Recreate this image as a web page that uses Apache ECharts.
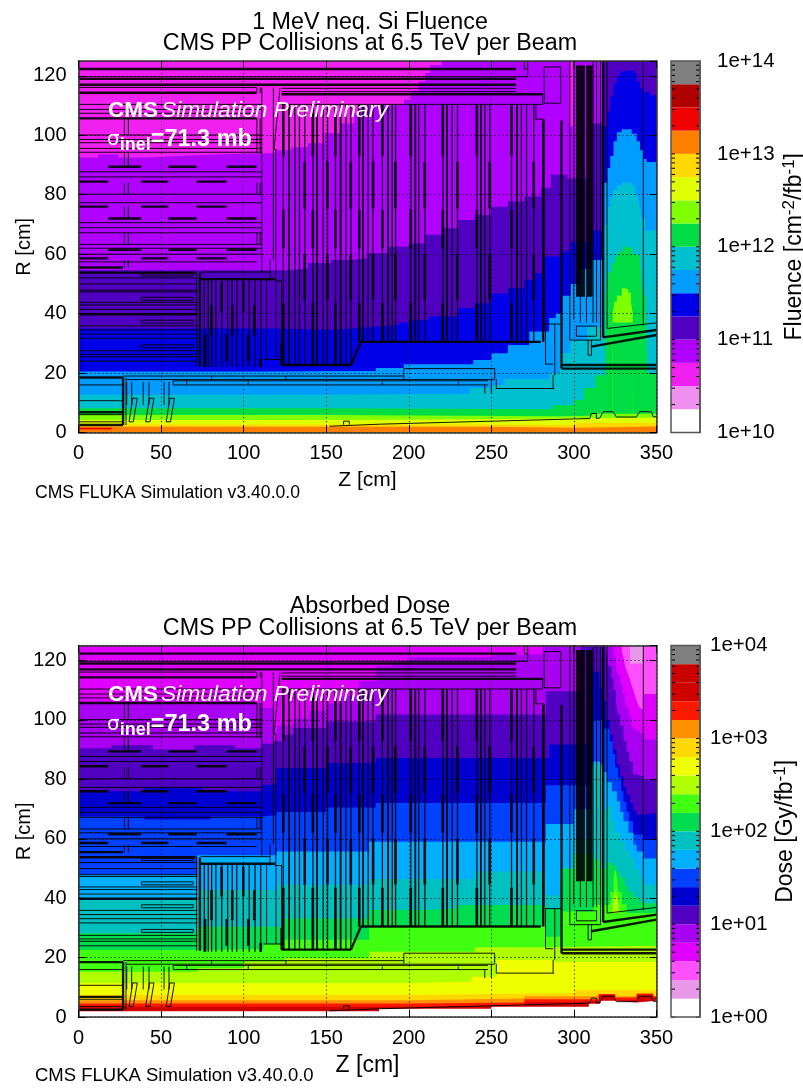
<!DOCTYPE html>
<html><head><meta charset="utf-8">
<script src="https://cdn.jsdelivr.net/npm/echarts@6/dist/echarts.min.js"></script>
<style>html,body{margin:0;padding:0;background:#fff}#c{width:803px;height:1089px}</style></head>
<body><div id="c"></div>
<script>
const FONT='Liberation Sans';
const zTicks=[0,50,100,150,200,250,300,350];
const rTicks=[0,20,40,60,80,100,120];

// colour scales, low to high
const fluenceColors=['#ffffff','#f090f0','#f020f0','#b000ff','#5000c0','#0000e8','#009cff','#00c0d0','#00dd44','#80ff00','#e0ff00','#ffd800','#ff8000','#f00000','#b00000','#808080'];
const fluenceEdges=[1e10,1.78e10,3.16e10,5.62e10,1e11,1.78e11,3.16e11,5.62e11,1e12,1.78e12,3.16e12,5.62e12,1e13,1.78e13,3.16e13,5.62e13,1e14];
const doseColors=['#ffffff','#e898e8','#ff50ff','#e000ff','#a800f0','#5000c0','#0000d0','#0040ff','#00b0ff','#00c0c0','#00dd50','#40ff10','#b0ff00','#f0ff00','#ffd800','#ff9000','#ff1800','#d00000','#c80000','#808080'];
const doseEdges=[1,1.58,2.51,3.98,6.31,10,15.8,25.1,39.8,63.1,100,158,251,398,631,1000,1580,2510,3980,6310,10000];

// fluence: R below which the field is at least this level, read as [Z, R] steps
const fluMagenta=[[0,125],[350,125]];
const fluPurple=[[0,92.5],[12,93.5],[24,92.5],[42,93],[60,93.5],[85,94],[111,94],[119,95],[129,96],[139,97.3],[149,100.7],[159,104],[167,107.4],[171,110],[185,110],[193,110.5],[197,112],[201,115],[206,118],[210,121],[213,123.6],[220,125],[297,103],[300,125],[350,125]];
const fluIndigo=[[0,54.6],[70,54.6],[127,55.2],[139,57],[153,58],[165,58.6],[175,60.3],[187.5,62.5],[200,63.6],[210,66.5],[220,68.7],[230,71.5],[240,73.2],[250,76],[260,77.7],[270,79.4],[280,82.2],[286,86.7],[296,85.5],[311,104],[318,125],[350,125]];
const fluBlue=[[0,35],[70,35],[119,34.5],[153,35],[167,35.6],[180,36.2],[194,37],[200,37.8],[212,39],[230,41.8],[240,43.5],[250,46.8],[260,48.5],[270,51.3],[276,53.6],[282,59.2],[293,61],[298,64],[311,68],[318,103],[320,108],[322,113],[324,117.5],[326,120],[328,121.5],[330,122],[336,121],[338,118],[340,116],[342,114.6],[346,113.5],[350,113]];
const fluSky=[[0,20.5],[110,20.7],[180,21.7],[197,23],[239,24.4],[250,26.7],[260,29.4],[273,34],[285,38.5],[289,40],[293,46],[298,50],[304,55],[311,58],[318,84],[320,89],[322,93],[324,98],[326,101],[329,102],[332,102],[335,100.5],[338,98],[340,95],[342,92],[344,91],[350,90.5]];
const fluTeal=[[0,12.7],[150,13],[237,15],[250,16],[258,18],[285,20],[291.6,26.7],[298,31],[308,35.5],[318,65.7],[319,70],[320.6,76],[322,79],[323.5,81.6],[326,83],[329,84],[332,84],[335,83],[337,80],[339,78],[340,76],[341,72],[343,68],[350,67]];
const fluGreen=[[0,8.2],[150,7.8],[287,9.2],[300,10.9],[306,15],[313,19.3],[319,45],[320,50],[321,54],[323,57],[325,59.5],[327,61],[330,62.5],[332,62],[335,60],[338,59.5],[340,58],[341,50],[342,46],[343.5,42],[344.5,20],[350,20]];
const fluLimeIsland=[[323.5,40],[324.5,44],[326,46],[329,48.5],[331,48],[333,47],[334.5,44],[335.6,40],[336,40]];
const fluGreenCover=[[323.5,37],[336,37]];
const fluLime=[[0,5.9],[150,5.5],[290,5.6],[310,6.3],[350,7]];
const fluYellow=[[0,4.2],[100,4.3],[200,4.7],[290,5],[350,5.2]];
const fluGold=[[0,2.7],[250,2.5],[300,3.2],[350,3.2]];
const fluOrange=[[0,1.9],[250,1.6],[300,2],[350,2]];
const fluRed=[[0,1.6],[20,1.6]];
const fluOrangeCover=[[0,1],[20,1]];

// dose
const dosePale=[[0,125],[350,125]];
const dosePink=[[0,125],[334,119],[342,125],[350,125]];
const doseMagenta=[[0,125],[329,123],[330,121],[331,118],[332,116.5],[333,115],[334,113.5],[335,111.5],[336,110],[337,108],[338,106.5],[339,105],[340,104],[341,103.5],[342,108.7],[350,108.7]];
const dosePurple=[[0,105.7],[30,105.2],[70,105.7],[111,104],[118,93],[120,98],[130,100.5],[140,103],[150,105.5],[160,108],[170,113],[180,118],[190,119.5],[200,121],[250,122],[281,125],[322.7,125],[324,121],[325.5,118],[326.7,115.2],[328,112],[329.5,109],[330.8,106.3],[332,104],[333.5,101],[334.8,98.4],[336,97],[337.9,96.2],[340,95.5],[342,95],[343,93.4],[350,93.4]];
const doseIndigo=[[0,90.5],[20,91.5],[45,90],[70,91.5],[95,90.5],[111,92],[118,92.8],[124,95],[130,97.3],[150,99.5],[180,101.8],[280,101.8],[283,109.6],[300,109.6],[304,125],[319,125],[320,122],[321,118],[322.7,114],[324,110],[325.5,106],[326.7,101.8],[328,98],[330,93],[331.8,89.4],[333.5,86],[335.8,81.6],[338,81],[342,80.5],[343,79.9],[350,79.9]];
const doseDark=[[0,76],[40,77],[75,76],[111,78.2],[120,83.8],[150,85.5],[180,87.2],[280,87.2],[285,91.7],[300,92],[311,116],[313.6,116.4],[315.5,111],[317.7,106.3],[319.5,100],[321.7,95],[323.5,90],[325.8,85],[328,81],[330,77.5],[331.8,74.9],[334,72],[336,69.5],[337.9,68.1],[342,67.6],[343,68.7],[350,68.7]];
const doseBlue=[[0,67.5],[40,66.5],[80,67.5],[111,68],[120,69],[150,70.5],[180,72],[280,72],[283,78],[300,78],[311.6,100],[317,97],[321.7,92.8],[323.5,88.5],[325,84],[326.7,80.5],[328.5,76],[330,72.5],[331.8,69.2],[333.5,66],[335.8,61.4],[342,59.6],[350,58]];
const doseSky=[[0,47.8],[72,54.5],[120,55.7],[176,59],[280,59],[283,65],[292,65],[300,70],[311.6,86],[316,82.5],[320,79],[323,76],[326,72.6],[328,69],[330,65.9],[333,62],[336,58],[338,55.7],[342,53.4],[350,52.3]];
const doseTeal=[[0,39.4],[72,42.8],[120,44.5],[176,46.5],[240,49],[281,49],[283,41],[292,41],[300,60],[311,85],[316,85],[318,70],[321,71],[323,66],[325,62],[328,59],[331,56],[334,53.5],[337,50],[340,47],[342,44.5],[350,43.3]];
const doseGreen=[[0,28.2],[72,30.4],[123,33.2],[176,36],[210,36.6],[230,37.7],[281,37.7],[283,36.5],[292,50],[300,55],[312,53],[316,50],[320,52],[323,51],[326,49],[328,47],[331,44],[333,42.2],[336,40.5],[339,39],[342,38.3],[350,37.7]];
const doseLime=[[0,22.6],[72,23],[112,24.5],[123,26],[176,30.5],[280,30.5],[283,27],[292,35.5],[312,37.7],[320,38],[322,42],[324,47],[325,50],[326,47],[327,42],[329,38],[332,35],[350,36.6]];
const doseYgIsland=[[323.5,38],[324.5,41],[325,43],[326,41],[327,38],[328,38]];
const doseLimeCover=[[322,35],[328,35]];
const doseYg=[[0,15.3],[72,16.4],[100,18.7],[125,19.8],[176,22],[240,23.5],[280,24],[350,24]];
const doseYellow=[[0,11.4],[200,12],[238,13.6],[253,19.2],[288,18.5],[350,18.5]];
const doseGold=[[0,7.4],[200,8],[300,9],[350,9]];
const doseOrange=[[0,5.7],[200,6.3],[270,7],[350,7.3]];
const doseRed=[[0,4.6],[200,4.9],[270,6],[315,7.8],[325,6.6],[338,7.9],[348,7],[350,7]];
const doseDarkRed=[[0,3.5],[200,3.8],[270,5],[300,5.5],[315,7.4],[325,5.7],[338,7.4],[348,6.5],[350,6.5]];
const doseWhite=[[0,2],[150,2],[182,2.8],[250,3.5],[309,4.5],[316,5.5],[325,4.9],[338,5.5],[350,5.6]];

const fluenceLayers=[[2,fluMagenta],[3,fluPurple],[4,fluIndigo],[5,fluBlue],[6,fluSky],[7,fluTeal],[8,fluGreen],[9,fluLimeIsland],[8,fluGreenCover],[9,fluLime],[10,fluYellow],[11,fluGold],[12,fluOrange],[13,fluRed],[12,fluOrangeCover]];
const doseLayers=[[1,dosePale],[2,dosePink],[3,doseMagenta],[4,dosePurple],[5,doseIndigo],[6,doseDark],[7,doseBlue],[8,doseSky],[9,doseTeal],[10,doseGreen],[11,doseLime],[12,doseYgIsland],[11,doseLimeCover],[12,doseYg],[13,doseYellow],[14,doseGold],[15,doseOrange],[16,doseRed],[17,doseDarkRed],[0,doseWhite]];

// detector outline: horizontal rules [R, Z from, Z to]
const thinH=[[116.1,0,107.8],[110.4,0,111],[108.7,0,111],[107.4,0,107.8],[100.1,0,111],[98.6,0,111],[97.5,0,111],[95.6,0,111],[94.3,0,111],[87.7,0,111],[86,0,111],[80.2,0,111],[77.3,0,111],[70.6,0,111],[68.9,0,111],[67.2,0,111],[63.3,0,111],[62,0,111],[60,0,111],[57.4,0,107.8],
 [119.7,0,272],[52,0,72],[50,0,72],[47.9,0,72],[47.3,0,72],[43.8,0,72],[42.9,0,72],[41.4,0,72],[35.9,0,72],[34.5,0,72],[33.1,0,72],[31.7,0,72],[27.5,0,72],[26.3,0,72],[25.5,0,72],[24,0,72],
 [115.8,123,265],[114.7,123,265],[110.4,123,281],[16,0,27],[10.7,0,27],[6,0,27],[3.6,0,27],[19,27,197],[17.8,29,252],[17.4,65.5,248],[16,65.5,248],[21.5,197,252],[14.8,253,288],[24.6,112,123],[51,119,123],[54,74,116]];
const thickH=[[122.3,0,265],[119,0,265],[117,0,265],[114.3,0,107.8],[105.7,0,107.8],[113.8,123,281],[53.8,0,71],[51.6,74,119],[39.8,0,72],[22.7,123,165],[30.5,171,280],[18.5,0,27],[6.8,0,27],[2.5,0,27],[22.7,292.5,350],[21.5,292.5,350],
 [89.4,18,38],[89.4,54.4,71.5],[89.4,89.7,107.8],[84.4,0,18],[84.4,38,54.4],[84.4,71.5,89.7],[72,18,38],[72,54.4,71.5],[72,89.7,107.8],[76,0,18],[76,38,54.4],[76,71.5,89.7],[61.5,18,38],[61.5,54.4,71.5],[61.5,89.7,107.8],[58.6,0,18],[58.6,38,54.4],[58.6,71.5,89.7],[55.5,0,27]];

// barrel layers: Z of each strip, by group
const barrelGroups=[[124,127.6,131,133.8,137],[141.9,144.5,148.2,150.8],[155.6,158.7,161.9,164.9],[170,172.4,175.4,178.4],[184,187.5,190,192],[201.2,204,206,209.7],[220.6,223.2,226.3,229.5],[241.2,243.6,246,249],[262.2,265.6,268.2,271.3,275.7]];
const bandsOdd=[[93,110.4],[62,74.9],[22,43.5]];
const bandsEven=[[75.4,91],[44.6,60]];
// forward strips: Z and their heavy bands
const trackerZ=[76.2,78.6,80.6,83.2,86.7,90.3,93.1,95.8,99.8,103.4,106.9,110.3];
const trackerThick=[[80.6,32.6,42.8],[86.7,40.6,50.6],[93.1,32.6,42.8],[99.8,40.6,50.6],[106.4,32.6,42.8],[76.6,22,33],[89.8,24,33],[102.8,24,33],[110.3,22,25]];

// vertical rules [Z, R from, R to]
const thinV=[[71.5,22.3,53.8],[113.9,24.6,51.6],[119.6,24.6,51],[123,22.7,51],
 [118,58.2,116],[111,54,116],[116,51,58.2],[119.5,51,95],
 [282,110.8,123],[292,110.8,123],[272,119.7,125],[270,122.3,125],[281,110.4,113.8],[277,105.4,110.4],[282,36.5,105.4],[282.8,23,36.5],[288.4,19.3,36.5],[287.4,14.8,19.3],[253,14.8,17.9],[297.5,31.1,125],[299.9,38,125],[303.9,37,45.7],[307.6,37,45.7],[311.6,37,125],[313.7,37,125],[316.1,31.1,125],[320.1,35,125],[342,36,125],[301.5,32.4,35.8],[313.7,32.4,35.8],[197,17.9,21.5],[252,17.9,21.5],[27.8,100.1,105.7],[30.2,100.1,105.7],[27.8,89.4,94],[30.2,89.4,94],[27.8,80.2,84],[30.2,80.2,84],[27.8,72,76],[30.2,72,76],[27.8,63.3,67.2],[30.2,63.3,67.2],[27.8,55.5,58],[30.2,55.5,58],[108,94,105.7],[110,94,105.7],[108,80.2,84],[110,80.2,84],[108,63.3,67.2],[110,63.3,67.2],[108,114.3,116.1],[110,114.3,116.1],
 [28.8,2.5,18.5],[80.6,17.8,19],[125.6,17.8,19],[102.8,16,17.4],[184,16,17],[230,16,17],[246,13.1,16],[250,13.1,17.8],[29.2,9.3,17],[32.2,9.3,17],[39.2,9.3,17],[42.7,9.3,17],[51.8,9.3,17],[54.8,9.3,17]];
const thickV=[[73.5,22.3,53.8],[27,2.5,18.5],[281.4,30.5,105],[292.5,21.5,105],[317.7,32,125],[123,22.7,30],
 [302,45.7,123.5],[303.4,45.7,123.5],[304.8,45.7,123.5],[306,45.7,123.5],[308.2,45.7,123.5],[309.6,45.7,123.5],[310.6,45.7,123.5]];
// free polylines, [Z, R] vertices
const outlinePaths=[
 [[122,115.8],[118.4,95.2],[120,95.2]],
 [[152,2.1],[182.5,2.8],[309.6,4.7],[310.6,4.7],[310.6,6.4],[313.6,6.4],[313.6,4.7],[315.7,4.9],[317.7,7],[323.7,7],[325.7,5.2],[337.8,5.2],[339.8,7],[346.9,7],[348,5.3],[350,5.3]],
 [[160.5,2.6],[160.5,3.8],[164,3.8],[164,2.6]],
 [[38.2,53.4],[69.5,53.4],[69.5,52.7],[38.2,52.7],[38.2,53.4]],[[38.2,45.5],[69.5,45.5],[69.5,44.5],[38.2,44.5],[38.2,45.5]],[[38.2,37.8],[69.5,37.8],[69.5,36.8],[38.2,36.8],[38.2,37.8]],[[38.2,29.5],[69.5,29.5],[69.5,28.5],[38.2,28.5],[38.2,29.5]],
 [[32.8,11.5],[35.6,11.5],[33.2,3.6],[30.6,3.6],[32.8,11.5]],[[42.9,11.5],[45.7,11.5],[43.3,3.6],[40.7,3.6],[42.9,11.5]],[[55.3,11.5],[58.1,11.5],[55.7,3.6],[53.1,3.6],[55.3,11.5]],
 [[57.4,17.4],[65.5,17.4],[65.5,16],[57.4,16],[57.4,17.4]],
 [[282,123],[292,123]],[[282,110.8],[292,110.8]],[[277,105.4],[282,105.4]],[[282.8,36.5],[292.5,36.5]],[[282.8,23],[287.4,23]],
 [[297.5,31.1],[316.1,31.1]],[[301.5,35.8],[313.7,35.8]],[[301.5,32.4],[313.7,32.4]],[[308.6,31.1],[308.6,26],[310.6,26],[310.6,31.1]],
 [[320.1,35],[350,36.9]],[[270,122.3],[272,122.3]]];
const outlineThickPaths=[[[165,22.7],[171,30.5]],[[317.7,32],[350,34.5]],[[310.6,28.9],[350,32.8]]];
const minorSteps=[2,3,4,5,6,7,8,9];

function segs(list,vertical){const out=[];list.forEach(s=>{out.push(vertical?[s[0],s[1]]:[s[1],s[0]]);out.push(vertical?[s[0],s[2]]:[s[2],s[0]]);out.push([null,null]);});return out;}
function paths(list){const out=[];list.forEach(p=>{p.forEach(q=>out.push(q));out.push([null,null]);});return out;}
// expand barrel groups into rules
const barrelThin=[],barrelHeavy=[],barrelMid=[];
barrelGroups.forEach(g=>{
  g.forEach((z,k)=>{
    const lo=z<167?22.7:30.5;
    barrelThin.push([z,lo,110.4]);
    if(k===1) barrelMid.push([z,lo,110.4]);
  });
  const clip=(z,b)=>[z,Math.max(b[0],z<167?22.7:30.5),b[1]];
  bandsOdd.forEach(b=>{barrelHeavy.push(clip(g[0],b));});
  bandsEven.forEach(b=>{barrelHeavy.push(clip(g[g.length-1],b));});
});
trackerZ.forEach(z=>barrelThin.push([z,22,51.6]));
trackerThick.forEach(t=>barrelHeavy.push(t));

const plotW=578,plotH=371.5,leftX=78.5,topY=[61,645.6],barX=671,barW=29;
const grids=[],xAxes=[],yAxes=[],series=[];
function axisCommon(){return {axisLine:{show:true,onZero:false,lineStyle:{color:'#333',width:1.5}},axisTick:{show:true,inside:true,length:7,lineStyle:{color:'#000',width:1}},z:6};}
function addPanel(i,layers,colors,edges,labels){
  const g=grids.length;
  grids.push({left:leftX,top:topY[i],width:plotW,height:plotH,outerBoundsMode:'none',containLabel:false});
  xAxes.push(Object.assign(axisCommon(),{gridIndex:g,type:'value',position:'bottom',min:zTicks[0],max:zTicks[zTicks.length-1],interval:50,
    axisLabel:{fontFamily:FONT,fontSize:20,color:'#000',margin:11},
    splitLine:{show:true,lineStyle:{color:'#000',type:[1,3],width:1}},
    name:'Z [cm]',nameLocation:'middle',nameGap:labels.zGap,nameMoveOverlap:false,nameTextStyle:{fontFamily:FONT,fontSize:labels.zSize,color:'#000'}}));
  xAxes.push(Object.assign(axisCommon(),{gridIndex:g,type:'value',position:'top',min:0,max:350,interval:50,axisLabel:{show:false},splitLine:{show:false}}));
  yAxes.push(Object.assign(axisCommon(),{gridIndex:g,type:'value',position:'left',min:rTicks[0],max:125,interval:20,
    axisLabel:{fontFamily:FONT,fontSize:20,color:'#000',margin:12,showMaxLabel:false},
    splitLine:{show:true,lineStyle:{color:'#000',type:[1,3],width:1}},
    name:'R [cm]',nameLocation:'middle',nameGap:44,nameRotate:90,nameMoveOverlap:false,nameTextStyle:{fontFamily:FONT,fontSize:20,color:'#000'}}));
  yAxes.push(Object.assign(axisCommon(),{gridIndex:g,type:'value',position:'right',min:0,max:125,interval:20,axisLabel:{show:false},splitLine:{show:false}}));
  const xi=xAxes.length-2, yi=yAxes.length-2;
  layers.forEach(l=>{
    series.push({type:'line',xAxisIndex:xi,yAxisIndex:yi,data:l[1],step:'end',showSymbol:false,symbol:'none',silent:true,animation:false,clip:true,z:2,
      lineStyle:{width:0},areaStyle:{color:colors[l[0]],opacity:1,origin:'start'}});
  });
  const line=(data,w)=>series.push({type:'line',xAxisIndex:xi,yAxisIndex:yi,data:data,showSymbol:false,symbol:'none',silent:true,animation:false,clip:true,z:3,connectNulls:false,
      lineStyle:{color:'#000',width:w,opacity:0.9}});
  line(segs(thinH,false),1); line(segs(thinV,true),1); line(segs(barrelThin,true),1.3); line(paths(outlinePaths),1);
  line(segs(barrelMid,true),1.6);
  line(segs(thickH,false),2.4); line(segs(thickV,true),2.4); line(segs(barrelHeavy,true),2.6); line(paths(outlineThickPaths),2.4);

  // colour bar
  const b=grids.length;
  grids.push({left:barX,top:topY[i],width:barW,height:plotH,outerBoundsMode:'none',containLabel:false});
  xAxes.push({gridIndex:b,type:'value',min:0,max:1,show:false});
  yAxes.push({gridIndex:b,type:'log',logBase:10,position:'right',min:edges[0],max:edges[edges.length-1],
    axisLine:{show:true,onZero:false,lineStyle:{color:'#555',width:1.5}},axisTick:{show:false},splitLine:{show:false},z:6,
    axisLabel:{fontFamily:FONT,fontSize:20.5,color:'#000',margin:labels.barMargin,formatter:v=>{const e=Math.round(Math.log10(v));return '1e+'+(e<10?'0':'')+e;}},
    name:labels.name,nameLocation:'middle',nameRotate:90,nameGap:labels.nameGap,nameMoveOverlap:false,
    nameTextStyle:{fontFamily:FONT,fontSize:23,color:'#000',rich:{m:{fontFamily:FONT,fontSize:23,color:'#000'},s:{fontFamily:FONT,fontSize:17,color:'#000',verticalAlign:'bottom',padding:[0,0,10,0]}}}});
  const bx=xAxes.length-1, by=yAxes.length-1;
  const barData=colors.map((c,k)=>[edges[k],edges[k+1],k]);
  series.push({type:'custom',xAxisIndex:bx,yAxisIndex:by,data:barData,silent:true,animation:false,z:2,encode:{y:[0,1]},
    renderItem:(p,api)=>{const a=api.coord([0,api.value(0)]),c=api.coord([1,api.value(1)]);
      return {type:'rect',shape:{x:a[0],y:c[1],width:c[0]-a[0],height:a[1]-c[1]},style:{fill:colors[api.value(2)]}};}});
  const tickVals=[];for(let d=0;d<4;d++){const base=edges[0]*Math.pow(10,d);tickVals.push(base);minorSteps.forEach(m=>tickVals.push(base*m));}
  series.push({type:'custom',xAxisIndex:bx,yAxisIndex:by,data:tickVals.map(v=>[v]),silent:true,animation:false,z:3,encode:{y:0},
    renderItem:(p,api)=>{const a=api.coord([0,api.value(0)]),c=api.coord([1,api.value(0)]);
      return {type:'group',children:[{type:'line',shape:{x1:a[0],y1:a[1],x2:a[0]+4,y2:a[1]},style:{stroke:'#000',lineWidth:1}},{type:'line',shape:{x1:c[0]-4,y1:c[1],x2:c[0],y2:c[1]},style:{stroke:'#000',lineWidth:1}}]};}});
  series.push({type:'custom',xAxisIndex:bx,yAxisIndex:by,data:[[edges[0],edges[edges.length-1]]],silent:true,animation:false,z:4,encode:{y:[0,1]},
    renderItem:(p,api)=>{const a=api.coord([0,api.value(0)]),c=api.coord([1,api.value(1)]);
      return {type:'rect',shape:{x:a[0],y:c[1],width:c[0]-a[0],height:a[1]-c[1]},style:{fill:'none',stroke:'#555',lineWidth:1.5}};}});
}
addPanel(0,fluenceLayers,fluenceColors,fluenceEdges,{zGap:37,zSize:21,barMargin:17,nameGap:81,name:'{m|Fluence [cm}{s|-2}{m|/fb}{s|-1}{m|]}'});
addPanel(1,doseLayers,doseColors,doseEdges,{zGap:37,zSize:23,barMargin:10,nameGap:72,name:'{m|Dose [Gy/fb}{s|-1}{m|]}'});

const titleOpts=(t,y)=>({text:t,left:365,top:y,textAlign:'center',textStyle:{fontFamily:FONT,fontSize:23.3,fontWeight:'normal',color:'#000'}});
function annotations(dy){
  return [
   {type:'text',z:20,left:108,top:99+dy,style:{text:'CMS',fontFamily:FONT,fontSize:22.5,fontWeight:'bold',fill:'#fff'}},
   {type:'text',z:20,left:161,top:99+dy,style:{text:'Simulation Preliminary',fontFamily:FONT,fontSize:22.8,fontStyle:'italic',fill:'#fff'}},
   {type:'text',z:20,left:107,top:128+dy,style:{text:'{a|σ}{b|inel}{c|=71.3 mb}',fill:'#fff',rich:{a:{fontFamily:'DejaVu Sans',fontSize:20,fill:'#fff',fontWeight:'normal'},b:{fontFamily:FONT,fontSize:18,fontWeight:'bold',fill:'#fff',verticalAlign:'top',padding:[10,0,0,0]},c:{fontFamily:FONT,fontSize:23.5,fontWeight:'bold',fill:'#fff'}}}},
  ];
}
const opt={animation:false,backgroundColor:'#fff',
 title:[titleOpts('1 MeV neq. Si Fluence',6),titleOpts('CMS PP Collisions at 6.5 TeV per Beam',27),titleOpts('Absorbed Dose',590),titleOpts('CMS PP Collisions at 6.5 TeV per Beam',612)],
 grid:grids,xAxis:xAxes,yAxis:yAxes,series:series,
 graphic:annotations(0).concat(annotations(584.6)).concat([
  {type:'text',left:35,top:484,z:20,style:{text:'CMS FLUKA Simulation v3.40.0.0',fontFamily:FONT,fontSize:17.6,fill:'#000'}},
  {type:'text',left:35,top:1066,z:20,style:{text:'CMS FLUKA Simulation v3.40.0.0',fontFamily:FONT,fontSize:18.5,fill:'#000'}}
 ])};
echarts.init(document.getElementById('c'),null,{renderer:'canvas'}).setOption(opt);
</script></body></html>
